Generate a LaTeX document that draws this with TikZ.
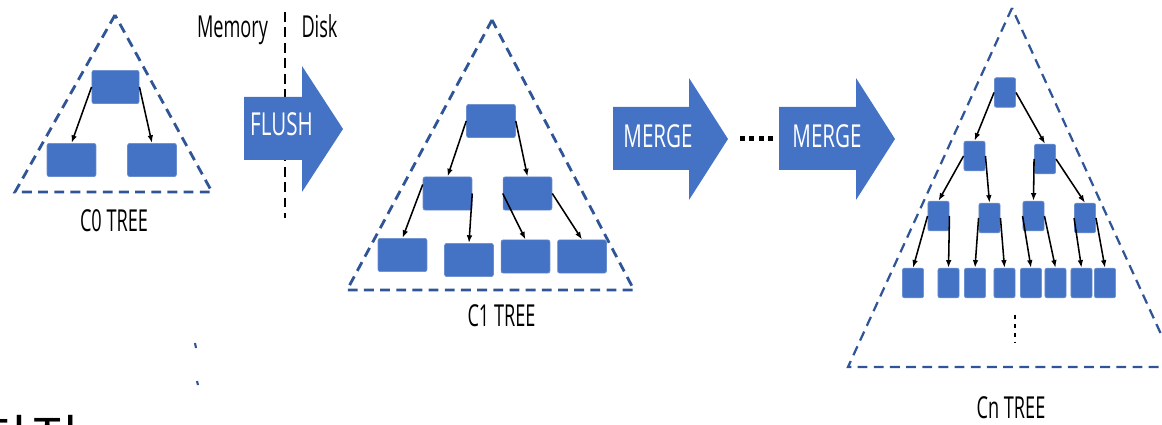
\documentclass[tikz,border=0pt]{standalone}
\usepackage{fontspec}
\usepackage{graphicx}
\setmainfont{Open Sans}
\newfontfamily\kofont{Noto Sans CJK KR}
\usetikzlibrary{arrows.meta}

\definecolor{boxblue}{HTML}{4472C4}
\definecolor{edgeblue}{HTML}{2F5597}

% squeezed labels
\newcommand{\narrow}[1]{\scalebox{0.6}[1]{#1}}
\newcommand{\narrowarr}[1]{\scalebox{0.65}[1]{#1}}

\tikzset{
  blk/.style={draw=boxblue!80!white, fill=boxblue, rounded corners=1.5pt, line width=0.5pt,
    minimum width=1.22cm, minimum height=0.83cm, inner sep=0pt},
  sblk/.style={blk, minimum width=0.53cm, minimum height=0.74cm},
  link/.style={-{Latex[length=5.5pt,width=4pt]}, line width=1.1pt},
  tri/.style={edgeblue, line width=2pt, dash pattern=on 7pt off 4.5pt},
  lbl/.style={font=\fontsize{21.5}{26}\selectfont, inner sep=0pt, anchor=base},
  arrlbl/.style={lbl, text=white, font=\fontsize{22.5}{27}\selectfont},
}

\begin{document}
\begin{tikzpicture}[x=0.025cm, y=-0.025cm]
\useasboundingbox (0,0) rectangle (1162,425);

% memory / disk split
\draw[black, line width=1.3pt, dash pattern=on 7pt off 4pt] (285,12) -- (285,218);
\node[lbl] (memLabel) at (232.5,38) {\narrow{Memory}};
\node[lbl] (diskLabel) at (319.5,38) {\narrow{Disk}};

% C0 tree
\draw[tri] (115,15) -- (15,192) -- (212,192) -- cycle;
\node[blk, minimum width=1.18cm] (c0Root) at (115.5,87) {};
\node[blk] (c0Left) at (71.5,160) {};
\node[blk] (c0Right) at (152,160) {};
\draw[link] (c0Root.west) -- (c0Left.north);
\draw[link] (c0Root.east) -- (c0Right.north);
\node[lbl] (c0Label) at (114,231.5) {\narrow{C0 TREE}};

% flush arrow
\fill[boxblue] (244,97) -- (302,97) -- (302,66) -- (343,129) -- (302,192) -- (302,160) -- (244,160) -- cycle;
\node[arrlbl] (flushLabel) at (281.5,136) {\narrowarr{FLUSH}};

% C1 tree
\draw[tri] (492,20) -- (347,290) -- (634,290) -- cycle;
\node[blk] (c1Root) at (491,121) {};
\node[blk] (c1Left) at (447.5,193.5) {};
\node[blk] (c1Right) at (527.5,193.5) {};
\node[blk] (c1LeftLeft) at (402.5,255) {};
\node[blk] (c1LeftRight) at (469,260) {};
\node[blk] (c1RightLeft) at (525.5,256.5) {};
\node[blk] (c1RightRight) at (582,256.5) {};
\draw[link] (c1Root.west) -- (c1Left.north);
\draw[link] (c1Root.east) -- (c1Right.north);
\draw[link] (c1Left.160) -- (c1LeftLeft.north);
\draw[link] (c1Left.east) -- (c1LeftRight.north);
\draw[link] (c1Right.west) -- (c1RightLeft.north);
\draw[link] (c1Right.east) -- (c1RightRight.north);
\node[lbl] (c1Label) at (501.5,326.5) {\narrow{C1 TREE}};

% merge arrows
\fill[boxblue] (613,107) -- (689,107) -- (689,78) -- (728,139) -- (689,200) -- (689,170) -- (613,170) -- cycle;
\node[arrlbl] (mergeLabelA) at (658,148) {\narrowarr{MERGE}};
\foreach \x in {742,751.5,761,770.5}
  \fill[black] ({\x-2.5},136) rectangle ({\x+2.5},141);
\fill[boxblue] (779,107) -- (856,107) -- (856,78) -- (895,139) -- (856,200) -- (856,170) -- (779,170) -- cycle;
\node[arrlbl] (mergeLabelB) at (827,148) {\narrowarr{MERGE}};

% Cn tree
\draw[tri, line width=1.6pt] (1012,8) -- (848,367) -- (1176,367) -- cycle;
\node[sblk] (cnRoot) at (1005,92.5) {};
\node[sblk] (cnLeft) at (974.5,156) {};
\node[sblk] (cnRight) at (1045,159) {};
\node[sblk] (cnLeftLeft) at (938.5,216) {};
\node[sblk] (cnLeftRight) at (989.5,218) {};
\node[sblk] (cnRightLeft) at (1033.5,216) {};
\node[sblk] (cnRightRight) at (1085,218) {};
\foreach \x [count=\i] in {913,948.5,975,1004.5,1031,1055.5,1081.5,1105}
  \node[sblk] (cnLeaf\i) at (\x,283) {};
\draw[link] (cnRoot.west) -- (cnLeft.north);
\draw[link] (cnRoot.east) -- (cnRight.north);
\draw[link] (cnLeft.west) -- (cnLeftLeft.north);
\draw[link] (cnLeft.east) -- (cnLeftRight.north);
\draw[link] (cnRight.west) -- (cnRightLeft.north);
\draw[link] (cnRight.east) -- (cnRightRight.north);
\draw[link] (cnLeftLeft.west) -- (cnLeaf1.north);
\draw[link] (cnLeftLeft.east) -- (cnLeaf2.north);
\draw[link] (cnLeftRight.west) -- (cnLeaf3.north);
\draw[link] (cnLeftRight.east) -- (cnLeaf4.north);
\draw[link] (cnRightLeft.west) -- (cnLeaf5.north);
\draw[link] (cnRightLeft.east) -- (cnLeaf6.north);
\draw[link] (cnRightRight.west) -- (cnLeaf7.north);
\draw[link] (cnRightRight.east) -- (cnLeaf8.north);
\draw[black, line width=1.4pt, dash pattern=on 3pt off 3.4pt] (1015,315) -- (1015,343);
\node[lbl] (cnLabel) at (1011,418) {\narrow{Cn TREE}};

% stray marks
\draw[edgeblue, line width=1.5pt] (195,343) -- (196,348);
\draw[edgeblue, line width=1.5pt] (197,381) -- (198,385);

% heading cut off at the bottom
\node[anchor=base west, inner sep=0pt, font=\kofont\fontsize{38}{40}\selectfont] (koText) at (-19,459) {단점};
\end{tikzpicture}
\end{document}
